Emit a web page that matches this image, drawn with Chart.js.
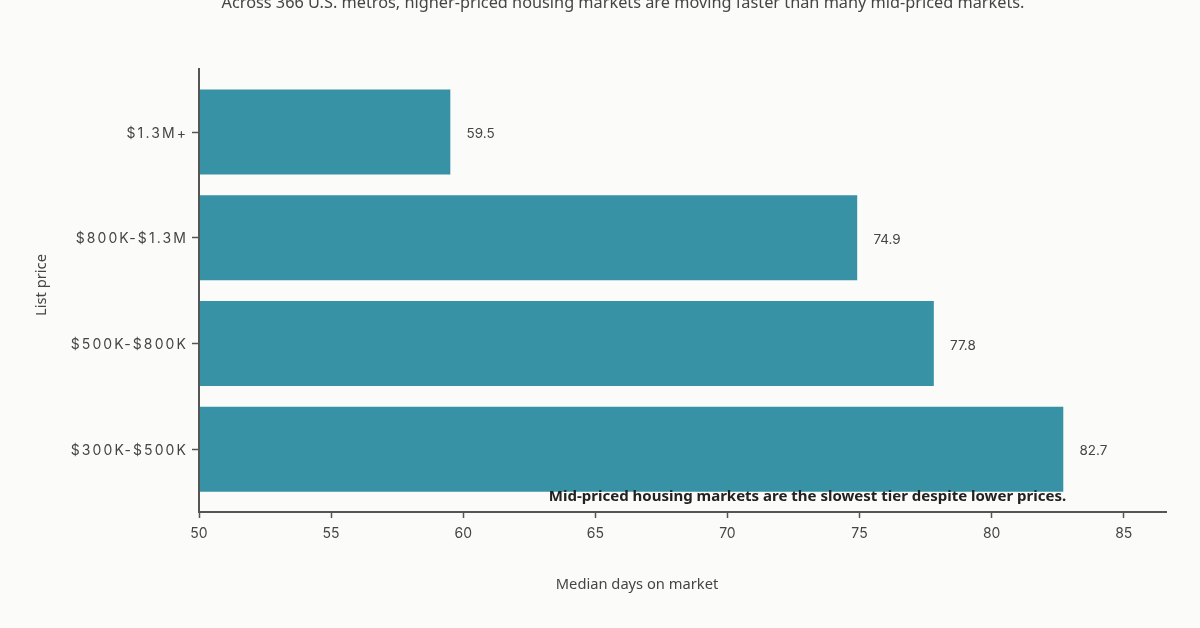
<!DOCTYPE html>
<html>
<head>
<meta charset="utf-8">
<style>html,body{margin:0;padding:0;background:#fbfbf9;overflow:hidden}canvas{display:block}</style>
<script src="https://cdn.jsdelivr.net/npm/chart.js@4"></script>
</head>
<body>
<canvas id="c" width="1200" height="628"></canvas>
<script>
const categories = ["$1.3M+", "$800K-$1.3M", "$500K-$800K", "$300K-$500K"];
const values = [59.5, 74.9, 77.8, 82.7];
const xTicks = [50, 55, 60, 65, 70, 75, 80, 85];
const subtitle = "Across 366 U.S. metros, higher-priced housing markets are moving faster than many mid-priced markets.";
const note = "Mid-priced housing markets are the slowest tier despite lower prices.";
const xTitle = "Median days on market";
const yTitle = "List price";

const FONT = '"Noto Sans", sans-serif';
const TICKFONT = 'Inter, sans-serif';
const INK = "#454545";

const overlay = {
  id: "overlay",
  afterDatasetsDraw(chart) {
    chart.ctx.letterSpacing = "2.1px";
  },
  afterDraw(chart) {
    const ctx = chart.ctx, x = chart.scales.x, y = chart.scales.y;
    ctx.save();
    ctx.letterSpacing = "0px";
    ctx.textBaseline = "middle";
    ctx.fillStyle = INK;
    ctx.font = "13.5px " + TICKFONT;
    ctx.textAlign = "left";
    values.forEach((v, i) => ctx.fillText(v.toFixed(1), x.getPixelForValue(v) + 16.5, y.getPixelForValue(i) + 2));
    ctx.font = "14.7px " + FONT;
    ctx.textAlign = "center";
    ctx.fillText(xTitle, 637, 585);
    ctx.save();
    ctx.translate(42, 285);
    ctx.rotate(-Math.PI / 2);
    ctx.fillText(yTitle, 0, 0);
    ctx.restore();
    ctx.font = "16.3px " + FONT;
    ctx.fillText(subtitle, 623, 3);
    ctx.font = "bold 15px " + FONT;
    ctx.fillStyle = "#222";
    ctx.fillText(note, 807.5, 497);
    ctx.restore();
  }
};

new Chart(document.getElementById("c"), {
  type: "bar",
  data: {
    datasets: [{
      label: xTitle,
      data: values.map((v, i) => ({ x: v, y: i })),
      backgroundColor: "#3792a6",
      borderWidth: 0,
      barThickness: 84.5
    }]
  },
  options: {
    indexAxis: "y",
    responsive: false,
    animation: false,
    events: [],
    layout: { padding: { top: 69, right: 34, left: 0, bottom: 0 } },
    plugins: { legend: { display: false }, title: { display: false }, tooltip: { enabled: false } },
    scales: {
      x: {
        type: "linear",
        min: 50,
        max: 86.6,
        afterFit(s) { s.height = 116; },
        afterBuildTicks(s) { s.ticks = xTicks.map(v => ({ value: v })); },
        grid: { drawOnChartArea: false, drawTicks: true, tickLength: 6, tickColor: "#555", tickWidth: 1.5 },
        border: { color: "#555", width: 2, z: 2 },
        ticks: { color: INK, padding: 7, maxRotation: 0, autoSkip: false, font: { family: TICKFONT, size: 14 } }
      },
      y: {
        type: "linear",
        reverse: true,
        offset: false,
        min: -0.596,
        max: 3.593,
        afterFit(s) { s.width = 199; },
        afterBuildTicks(s) { s.ticks = categories.map((c, i) => ({ value: i })); },
        grid: { offset: false, drawOnChartArea: false, drawTicks: true, tickLength: 7, tickColor: "#555", tickWidth: 1.5 },
        border: { color: "#555", width: 2, z: 2 },
        ticks: {
          z: 1,
          color: INK,
          padding: 4,
          labelOffset: 1.5,
          autoSkip: false,
          font: { family: TICKFONT, size: 14 },
          callback: v => categories[v]
        }
      }
    }
  },
  plugins: [overlay, { id: "bg", beforeDraw(c) { const x = c.ctx; x.save(); x.fillStyle = "#fbfbf9"; x.fillRect(0, 0, c.width, c.height); x.restore(); } }]
});
</script>
</body>
</html>
